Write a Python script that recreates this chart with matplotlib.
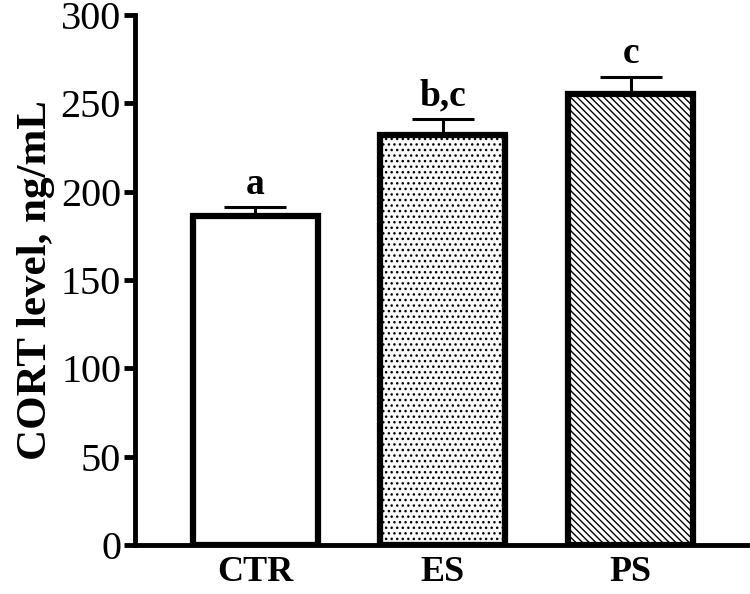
import numpy as np
import matplotlib
matplotlib.use("Agg")
import matplotlib.pyplot as plt

groups = ["CTR", "ES", "PS"]
means = [186, 232, 255]
errs = [5, 9, 10]
letters = ["a", "b,c", "c"]
hatches = [None, "...", "\\\\\\\\\\"]
faces = ["white", "#fafafa", "white"]

plt.rcParams["font.family"] = ["Liberation Serif", "DejaVu Serif"]
plt.rcParams["hatch.linewidth"] = 1.0
plt.rcParams["hatch.color"] = "#555555"

fig = plt.figure(figsize=(7.5, 5.94), dpi=100)
ax = fig.add_axes([0.18, 0.0825, 0.816, 0.8925])

x = np.arange(len(groups))
ax.errorbar(x, means, yerr=[np.zeros(len(errs)), errs], fmt="none",
            ecolor="black", elinewidth=2.2, capsize=22, capthick=2.2, zorder=1)
bars = ax.bar(x, means, width=0.665, color=faces, edgecolor="black",
              linewidth=4.5, zorder=2)
for b, h in zip(bars, hatches):
    if h:
        b.set_hatch(h)

for xi, m, e, lab in zip(x, means, errs, letters):
    ax.text(xi, m + e + 3, lab, ha="center", va="bottom", fontsize=27,
            fontweight="bold")

ax.set_xlim(-0.64, 2.62)
ax.set_ylim(0, 300)
ax.set_yticks(np.arange(0, 301, 50))
ax.set_xticks(x)
ax.set_xticklabels(groups, fontweight="bold")
ax.tick_params(axis="y", labelsize=29, width=3.5, length=8, pad=2)
ax.tick_params(axis="x", labelsize=26, length=0, pad=8)
ax.set_ylabel("CORT level, ng/mL", fontsize=31, fontweight="bold", labelpad=4)

for s in ["top", "right"]:
    ax.spines[s].set_visible(False)
for s in ["left", "bottom"]:
    ax.spines[s].set_linewidth(3.5)

fig.savefig("out.png", dpi=100)
